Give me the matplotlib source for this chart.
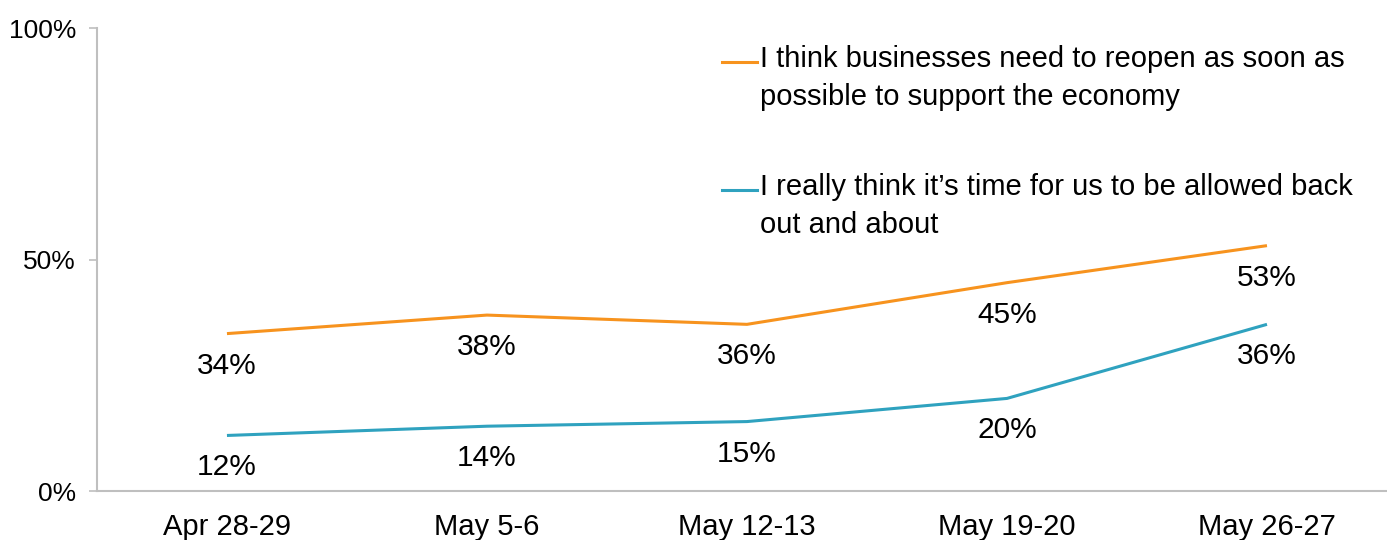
import matplotlib

matplotlib.use("Agg")
import matplotlib.pyplot as plt
from matplotlib.lines import Line2D
from matplotlib.ticker import FuncFormatter

plt.rcParams["font.family"] = ["Liberation Sans", "DejaVu Sans"]

periods = ["Apr 28-29", "May 5-6", "May 12-13", "May 19-20", "May 26-27"]
reopen_economy = [34, 38, 36, 45, 53]
back_out_about = [12, 14, 15, 20, 36]

series = [
    ("I think businesses need to reopen as soon as\npossible to support the economy",
     reopen_economy, "#F7931E"),
    ("I really think it\u2019s time for us to be allowed back\nout and about",
     back_out_about, "#2FA2BF"),
]

fig = plt.figure(figsize=(13.87, 5.40), dpi=100)
ax = fig.add_axes([0.0699, 0.0907, 0.9373, 0.8574])

x = range(len(periods))
for label, values, color in series:
    ax.plot(x, values, color=color, linewidth=2.2, solid_joinstyle="round",
            solid_capstyle="butt")
    for xi, v in zip(x, values):
        ax.annotate(f"{v}%", (xi, v), textcoords="offset points", xytext=(0, -23),
                    ha="center", va="center", fontsize=21.5, color="#000000")

ax.set_xlim(-0.5, 4.5)
ax.set_ylim(0, 100)
ax.set_yticks([0, 50, 100])
ax.yaxis.set_major_formatter(FuncFormatter(lambda v, _: f"{v:.0f}%"))
ax.set_xticks(list(x))
ax.set_xticklabels(periods)

for side in ("top", "right"):
    ax.spines[side].set_visible(False)
for side in ("left", "bottom"):
    ax.spines[side].set_color("#BFBFBF")
    ax.spines[side].set_linewidth(1.5)
ax.tick_params(axis="y", length=6, width=1.2, color="#BFBFBF", pad=9, labelsize=19)
ax.tick_params(axis="x", length=0, pad=16, labelsize=21)

# legend drawn by hand so the line sits beside the first text line
legend_y = [0.8852, 0.648]
for (label, _, color), y in zip(series, legend_y):
    fig.add_artist(Line2D([0.5206, 0.5460], [y, y], color=color, linewidth=2.2,
                          transform=fig.transFigure))
    fig.text(0.5478, y + 0.031, label, ha="left", va="top", fontsize=21,
             linespacing=1.45)

fig.savefig("out.png")
